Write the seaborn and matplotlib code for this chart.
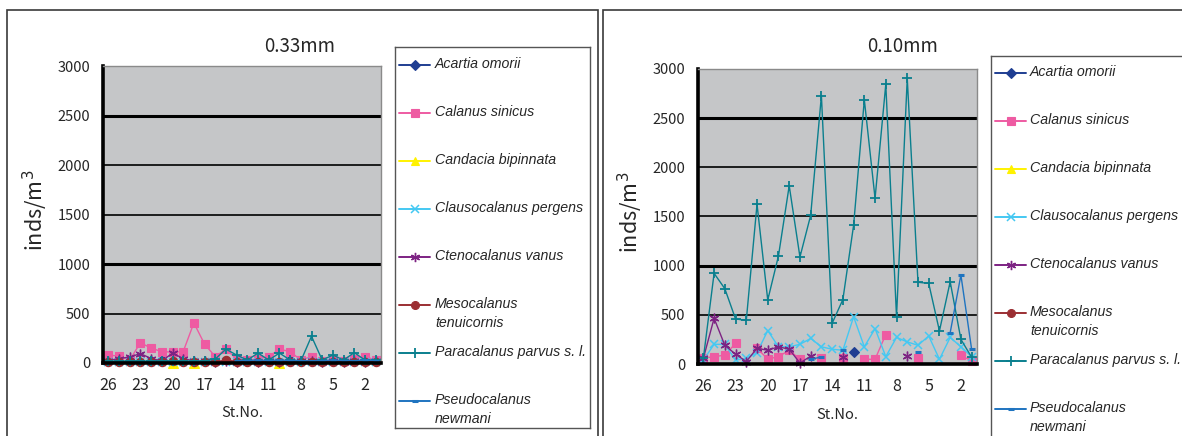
import numpy as np
import pandas as pd
import matplotlib
matplotlib.use("Agg")
import matplotlib.pyplot as plt
from matplotlib.patches import Rectangle
import seaborn as sns

nan = np.nan

# Sampling stations, plotted from 26 down to 1
stations = list(range(26, 0, -1))
tick_stations = [26, 23, 20, 17, 14, 11, 8, 5, 2]

species = [
    "Acartia omorii",
    "Calanus sinicus",
    "Candacia bipinnata",
    "Clausocalanus pergens",
    "Ctenocalanus vanus",
    "Mesocalanus\ntenuicornis",
    "Paracalanus parvus s. l.",
    "Pseudocalanus\nnewmani",
]

# ---- 0.33 mm net (inds/m3), stations 26 -> 1 ----
acartia_033 = [nan, nan, nan, nan, 20, 30, nan, nan, nan, nan, nan, nan, nan,
               nan, nan, nan, nan, 35, nan, nan, nan, nan, nan, nan, nan, nan]
calanus_033 = [80, 70, 30, 205, 150, 115, 110, 115, 405, 190, 65, 140, 40,
               30, 40, 65, 140, 115, 30, 65, 20, 30, 20, 40, 65, 30]
candacia_033 = [nan, nan, nan, nan, nan, nan, 0, nan, 0, nan, nan, nan, nan,
                nan, nan, nan, 0, nan, nan, nan, nan, nan, nan, nan, nan, nan]
clauso_033 = [10, 15, 10, 15, 10, 15, 10, 10, 15, 10, 10, 15, 10,
              15, 10, 10, 15, 10, 10, 15, 10, 10, 15, 10, 10, 15]
cteno_033 = [25, 45, 60, 95, 45, 20, 100, 45, 20, 20, 15, 20, 15,
             20, 15, 20, 15, 20, 20, 25, 15, 20, 15, 20, 15, 20]
meso_033 = [10, 15, 15, 10, 15, 10, 20, 15, 10, 15, 10, 30, 15,
            15, 10, 10, 10, 10, 10, 10, 15, 10, 15, 15, 15, 15]
paracal_033 = [20, 20, 20, 20, 20, 20, 20, 20, 20, 20, 40, 140, 80,
               30, 100, 30, 100, 30, 20, 270, 30, 80, 30, 105, 30, 30]
pseudo_033 = [nan, nan, nan, nan, nan, nan, nan, nan, nan, nan, nan, nan, 25,
              25, 30, 25, 30, 25, 25, 20, 25, 30, 25, 25, 30, 25]

# ---- 0.10 mm net (inds/m3), stations 26 -> 1 ----
acartia_010 = [nan, nan, nan, nan, nan, nan, nan, nan, nan, nan, nan, nan, nan,
               nan, 125, nan, nan, nan, nan, nan, nan, nan, nan, nan, nan, nan]
calanus_010 = [60, 75, 90, 210, nan, 160, 50, 75, 140, 48, nan, 58, nan,
               58, nan, 48, 48, 300, nan, nan, 58, nan, nan, nan, 90, 30]
candacia_010 = [nan] * 26
clauso_010 = [40, 200, 200, 40, 58, 115, 340, 175, 175, 200, 260, 175, 150,
              140, 480, 175, 360, 75, 270, 225, 190, 285, 48, 270, 175, 75]
cteno_010 = [58, 465, 190, 100, 25, 160, 140, 175, 150, 10, 80, nan, nan,
             75, nan, nan, nan, nan, nan, 80, nan, nan, nan, nan, nan, nan]
meso_010 = [nan] * 26
paracal_010 = [58, 922, 766, 458, 444, 1624, 651, 1100, 1813, 1088, 1512, 2729, 414,
               655, 1410, 2687, 1685, 2844, 481, 2905, 831, 820, 336, 837, 251, 68]
pseudo_010 = [nan, nan, nan, nan, nan, nan, nan, nan, nan, nan, 50, 70, nan,
              140, nan, nan, nan, nan, nan, nan, 125, nan, nan, 318, 905, 149]

series_033 = [acartia_033, calanus_033, candacia_033, clauso_033,
              cteno_033, meso_033, paracal_033, pseudo_033]
series_010 = [acartia_010, calanus_010, candacia_010, clauso_010,
              cteno_010, meso_010, paracal_010, pseudo_010]

colors = ["#1f3e92", "#ee5ba2", "#fff200", "#44c8f2",
          "#7d2383", "#9b2f33", "#0a7f8e", "#1f74c0"]
markers = ["D", "s", "^", "x", (6, 2, 0), "o", "+", "_"]
msizes = [5, 6, 6.5, 6, 7, 6, 7.5, 5]
mews = [0.8, 0.8, 0.8, 1.1, 1.0, 0.8, 1.3, 2.2]

sns.set_style("white")
plt.rcParams["font.family"] = ["Noto Sans CJK JP", "DejaVu Sans"]

W, H = 1182, 436
fig = plt.figure(figsize=(W / 100, H / 100), dpi=100)


def fx(px):
    return px / W


def fy(py):
    return 1 - py / H


# Panel frames
fig.patches.append(Rectangle((fx(7), fy(440)), fx(591), fy(10) - fy(440),
                             transform=fig.transFigure, fill=False,
                             edgecolor="#3a3a3a", lw=1.2))
fig.patches.append(Rectangle((fx(603), fy(440)), fx(600), fy(10) - fy(440),
                             transform=fig.transFigure, fill=False,
                             edgecolor="#3a3a3a", lw=1.2))


def draw_panel(rect, data, title, title_xy, ylab_x, xlab_y):
    x0, y0, x1, y1 = rect
    ax = fig.add_axes([fx(x0), fy(y1), fx(x1 - x0), fy(y0) - fy(y1)])
    ax.set_facecolor("#c5c6c8")
    pos = np.arange(len(stations))
    for name, vals, c, m, ms, mew in zip(species, data, colors, markers, msizes, mews):
        df = pd.DataFrame({"pos": pos, "val": np.asarray(vals, dtype=float)})
        df["run"] = df["val"].isna().cumsum()
        df = df.dropna()
        if df.empty:
            continue
        sns.lineplot(data=df, x="pos", y="val", units="run", estimator=None,
                     color=c, marker=m, ms=ms, mew=mew, mec=c, mfc=c,
                     lw=1.0, legend=False, sort=False, clip_on=False, ax=ax)
    ax.set_xlim(-0.5, len(stations) - 0.5)
    ax.set_ylim(0, 3000)
    ax.set_yticks(np.arange(0, 3001, 500))
    ax.yaxis.grid(True, color="black", lw=1.2)
    ax.xaxis.grid(False)
    ax.set_axisbelow(True)
    for gl, v in zip(ax.get_ygridlines(), np.arange(0, 3001, 500)):
        if v in (1000, 2500):
            gl.set_linewidth(2.2)
        if v == 3000:
            gl.set_visible(False)
    tick_pos = [stations.index(s) for s in tick_stations]
    ax.set_xticks(tick_pos, [str(s) for s in tick_stations])
    ax.set_xticks(np.arange(0.5, len(stations) - 0.5, 1), minor=True)
    ax.tick_params(axis="x", which="major", length=0, pad=10, labelsize=11.5)
    ax.tick_params(axis="x", which="minor", length=4, width=2, direction="in",
                   color="black")
    ax.tick_params(axis="y", length=0, pad=9, labelsize=10.5)
    for side in ("left", "bottom"):
        ax.spines[side].set_color("black")
        ax.spines[side].set_linewidth(2.6)
    for side in ("top", "right"):
        ax.spines[side].set_color("#8a8a8a")
        ax.spines[side].set_linewidth(1.0)
    ax.set_xlabel("")
    ax.set_ylabel("")
    fig.text(fx(title_xy[0]), fy(title_xy[1]), title, ha="center", va="center",
             fontsize=13.5)
    fig.text(fx(ylab_x), fy((y0 + y1) / 2 - 4), "inds/m$^3$", rotation=90,
             ha="center", va="center", fontsize=15.5)
    fig.text(fx((x0 + x1) / 2), fy(xlab_y), "St.No.", ha="center", va="center",
             fontsize=10.5)
    return ax


def draw_key(box, first_y, handle_x, text_x):
    bx0, by0, bx1, by1 = box
    lax = fig.add_axes([fx(bx0), fy(by1), fx(bx1 - bx0), fy(by0) - fy(by1)])
    lax.set_xlim(bx0, bx1)
    lax.set_ylim(by1, by0)
    lax.set_xticks([])
    lax.set_yticks([])
    lax.set_facecolor("white")
    for sp in lax.spines.values():
        sp.set_color("#555555")
        sp.set_linewidth(1.0)
    for k, (name, c, m, ms, mew) in enumerate(zip(species, colors, markers, msizes, mews)):
        yy = first_y + 48 * k
        lax.plot([handle_x, handle_x + 31], [yy, yy], color=c, lw=1.4)
        lax.plot([handle_x + 15.5], [yy], marker=m, color=c, ms=ms * 0.95,
                 mew=mew, mec=c, mfc=c, lw=0)
        lax.text(text_x, yy - 8, name, ha="left", va="top", style="italic",
                 family=["Liberation Sans", "DejaVu Sans"], fontsize=10.2,
                 linespacing=1.45)


draw_panel((103, 66, 381, 363), series_033, "0.33mm", (300, 46), 35, 413)
draw_key((395, 47, 590, 428), 65, 399, 435)

draw_panel((698, 69, 977, 364), series_010, "0.10mm", (903, 46), 630, 415)
draw_key((991, 56, 1190, 445), 73, 995, 1030)

fig.savefig("out.png", dpi=100)
